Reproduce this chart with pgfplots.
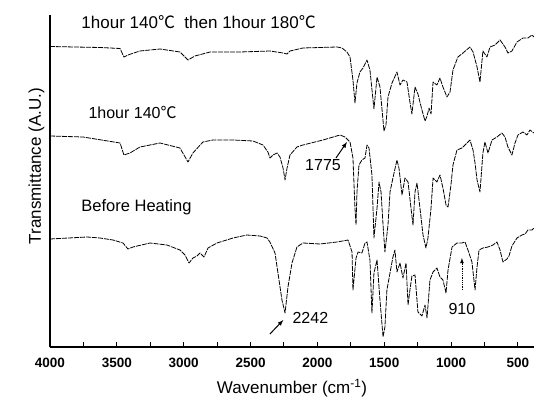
\documentclass[border=0pt]{standalone}
\usepackage{fontspec}
\setmainfont{Liberation Sans}
\newfontfamily\cjk{Noto Sans CJK SC}
\usepackage{pgfplots}
\pgfplotsset{compat=1.18}
\newcommand{\degc}{{\cjk ℃}}
\begin{document}
\begin{tikzpicture}
\path[use as bounding box] (-50bp,-52bp) rectangle (487bp,347bp);
\begin{axis}[
  scale only axis,
  width=484bp, height=332bp,
  x dir=reverse,
  xmin=380, xmax=4000,
  ymin=0, ymax=332,
  axis x line=bottom, axis y line=left,
  axis line style={-, line width=1.3bp},
  xtick={500,1000,...,4000},
  minor x tick num=1,
  ytick=\empty,
  tick align=inside,
  major tick length=5bp, minor tick length=5bp,
  tick style={line width=1bp, black},
  /pgf/number format/assume math mode=true,
  xticklabel style={font=\fontsize{13.5bp}{16bp}\selectfont\bfseries, yshift=-8bp},
  xticklabel={\pgfmathprintnumber[1000 sep={}]{\tick}},
  scaled x ticks=false,
  xlabel={Wavenumber (cm\textsuperscript{-1})},
  ylabel={Transmittance (A.U.)},
  label style={font=\fontsize{17bp}{20bp}\selectfont},
  xlabel style={yshift=-4bp},
  ylabel style={at={(ticklabel* cs:0.545)}, yshift=2bp},
  clip=true,
]
% Top: 1 hour 140C then 1 hour 180C
\addplot[black, no markers, line width=0.8bp, line join=round, dash pattern=on 5bp off 1bp] coordinates {
(4000,300.5) (3626,299.5) (3476,298.5) (3447,290) (3417,292) (3327,296) (3177,298)
(3028,295) (2968,287) (2916,291) (2803,295) (2579,295) (2355,296) (2257,294) (2227,293)
(2205,296) (2108,299) (1853,300) (1816,299) (1779,295) (1756,290) (1734,267) (1719,244)
(1704,264) (1682,275) (1659,279) (1629,287) (1607,277) (1577,238) (1554,270) (1532,260)
(1502,216) (1487,222) (1472,250) (1442,264) (1405,275) (1382,262) (1360,267) (1330,265)
(1308,245) (1293,233) (1270,260) (1248,253) (1218,237) (1195,226) (1180,231) (1165,239)
(1150,233) (1135,265) (1106,262) (1083,269) (1061,260) (1031,250) (1008,255) (986,277)
(949,290) (911,294) (859,300) (836,295) (806,280) (784,265) (762,296) (732,290) (709,300)
(672,302) (634,307) (597,300) (575,294) (545,296) (507,305) (462,309) (425,309) (395,312) (380,310)
};
% Middle: 1 hour 140C
\addplot[black, no markers, line width=0.8bp, line join=round, dash pattern=on 5bp off 1bp] coordinates {
(4000,211) (3753,210) (3476,204) (3447,192) (3402,194) (3327,200) (3177,204) (3028,199)
(2968,185) (2931,194) (2856,205) (2781,207) (2631,207) (2482,206) (2407,202) (2370,195)
(2355,189) (2332,192) (2302,194) (2280,190) (2257,179) (2242,167) (2227,179) (2205,192)
(2153,200) (2108,202) (1958,207) (1831,212) (1794,210) (1756,205) (1734,189) (1719,139)
(1711,122) (1704,155) (1689,182) (1667,187) (1644,189) (1629,202) (1614,199) (1592,172)
(1584,139) (1577,109) (1554,139) (1539,165) (1524,155) (1509,122) (1495,95) (1472,122)
(1457,155) (1435,169) (1405,187) (1390,179) (1367,152) (1345,169) (1322,165) (1300,139)
(1285,122) (1270,155) (1255,164) (1233,139) (1210,112) (1188,99) (1173,109) (1150,139)
(1135,169) (1106,165) (1083,172) (1061,159) (1038,142) (1023,140) (1001,162) (986,182)
(956,197) (919,199) (881,204) (859,207) (836,197) (821,184) (806,167) (784,155) (762,194)
(747,205) (724,194) (694,207) (657,210) (620,214) (597,210) (575,200) (545,192) (522,204)
(500,212) (462,215) (433,212) (410,217) (380,214)
};
% Bottom: Before heating
\addplot[black, no markers, line width=0.8bp, line join=round, dash pattern=on 5bp off 1bp] coordinates {
(4000,108) (3723,110) (3626,109) (3529,107) (3454,104) (3417,98) (3379,100) (3252,104)
(3125,102) (3028,97) (2990,92) (2960,84) (2931,89) (2901,91) (2878,94) (2848,90) (2818,99)
(2751,104) (2631,109) (2527,112) (2429,111) (2377,109) (2355,105) (2317,94) (2295,74)
(2265,47) (2242,34) (2220,60) (2190,84) (2153,100) (2108,104) (1981,103) (1853,105)
(1771,107) (1741,95) (1734,57) (1711,89) (1696,95) (1667,94) (1644,104) (1629,105)
(1607,87) (1592,34) (1577,74) (1554,87) (1532,47) (1509,10) (1495,20) (1480,57) (1457,74)
(1435,90) (1420,97) (1405,75) (1382,84) (1360,69) (1337,84) (1322,42) (1308,57) (1293,71)
(1270,72) (1248,35) (1218,31) (1195,42) (1180,29) (1158,67) (1135,75) (1106,79) (1083,70)
(1061,67) (1038,54) (1023,77) (993,100) (956,104) (919,104) (896,105) (874,97) (844,85)
(821,57) (806,80) (791,97) (762,99) (724,100) (687,102) (657,105) (634,97) (612,85)
(582,88) (567,91) (545,101) (507,109) (470,112) (447,113) (425,117) (395,117) (380,119)
};
% annotations
\node[anchor=west, font=\fontsize{17bp}{20bp}\selectfont] at (axis cs:3791,325) {1hour 140\degc\ \ then 1hour 180\degc};
\node[anchor=west, font=\fontsize{16bp}{19bp}\selectfont] at (axis cs:3738,234) {1hour 140\degc};
\node[anchor=west, font=\fontsize{16.5bp}{19bp}\selectfont] at (axis cs:3791,140) {Before Heating};
\node[font=\fontsize{16bp}{19bp}\selectfont] at (axis cs:1958,182) {1775};
\draw[-latex, line width=1bp] (axis cs:1861,189) -- (axis cs:1779,205);
\node[anchor=west, font=\fontsize{16bp}{19bp}\selectfont] at (axis cs:2212,29) {2242};
\draw[-latex, line width=1bp] (axis cs:2355,13) -- (axis cs:2255,27);
\node[font=\fontsize{16bp}{19bp}\selectfont] at (axis cs:919,38) {910};
\draw[-latex, line width=0.8bp, densely dotted] (axis cs:919,57) -- (axis cs:919,89);
\end{axis}
\end{tikzpicture}
\end{document}
